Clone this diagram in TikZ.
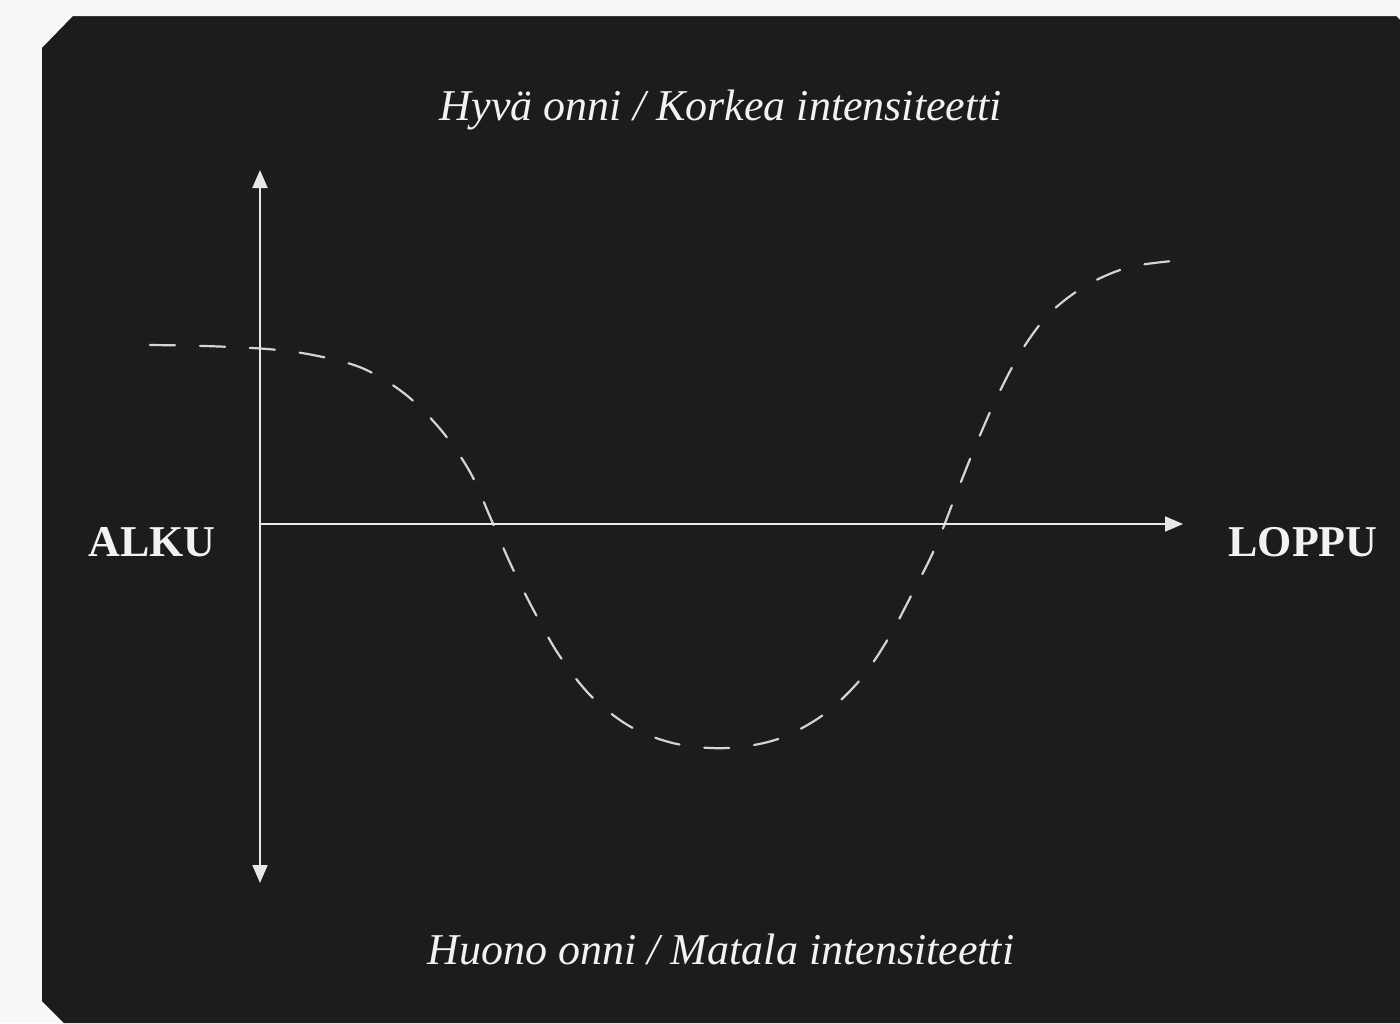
\documentclass[tikz,border=0pt]{standalone}
\usepackage{fontspec}
\setmainfont{Liberation Serif}
\usetikzlibrary{arrows.meta}
\definecolor{pagebg}{HTML}{F8F8FA}
\definecolor{panel}{HTML}{1C1C1C}
\definecolor{panelline}{HTML}{3A3A3A}
\definecolor{axiscol}{HTML}{E8E8E8}
\definecolor{curvecol}{HTML}{D4D4D4}
\definecolor{textcol}{HTML}{F2F2F2}
\tikzset{
  axisline/.style={draw=axiscol, line width=2pt},
  tip/.style={-{Triangle[length=18pt,width=15pt]}},
  curveline/.style={draw=curvecol, line width=2.2pt, dash pattern=on 25pt off 25pt, line cap=round},
  italiclabel/.style={text=textcol, font=\fontsize{44}{50}\selectfont\itshape, inner sep=0pt, anchor=base},
  boldlabel/.style={text=textcol, font=\fontsize{44}{50}\selectfont\bfseries, inner sep=0pt, anchor=base}
}
\begin{document}
\begin{tikzpicture}[x=1pt,y=-1pt]
\useasboundingbox (0,0) rectangle (1400,1023);
\fill[pagebg] (0,0) rectangle (1400,1023);
\fill[panel] (73,16) -- (1396,16) -- (1400,20) -- (1400,1023) -- (64,1023) -- (42,1001) -- (42,48) -- cycle;
\draw[panelline, line width=1pt] (73,16.5) -- (1396,16.5);

\coordinate (o) at (260,524);
\coordinate (ytop) at (260,170);
\coordinate (ybot) at (260,883);
\coordinate (xend) at (1183,524);

\draw[curveline] plot[smooth, tension=0.55] coordinates {
(150,345) (205,346) (267,349) (313,355) (362,368) (405,394) (441,430)
(470,472) (491,519) (511,565) (534,611) (559,655) (591,696) (631,727)
(677,744) (728,748) (778,739) (823,715) (860,680) (888,639) (912,594)
(935,548) (955,497) (975,447) (997,397) (1022,350) (1050,313) (1087,285)
(1130,267) (1183,260)};

\draw[axisline, tip] (o) -- (ytop);
\draw[axisline, tip] (o) -- (ybot);
\draw[axisline, tip] (o) -- (xend);

\node[italiclabel] (title) at (721,120) {Hyvä onni / Korkea intensiteetti};
\node[italiclabel] (subtitle) at (721,964) {Huono onni / Matala intensiteetti};
\node[boldlabel] (alku) at (152,556) {ALKU};
\node[boldlabel] (loppu) at (1303,556) {LOPPU};
\end{tikzpicture}
\end{document}
